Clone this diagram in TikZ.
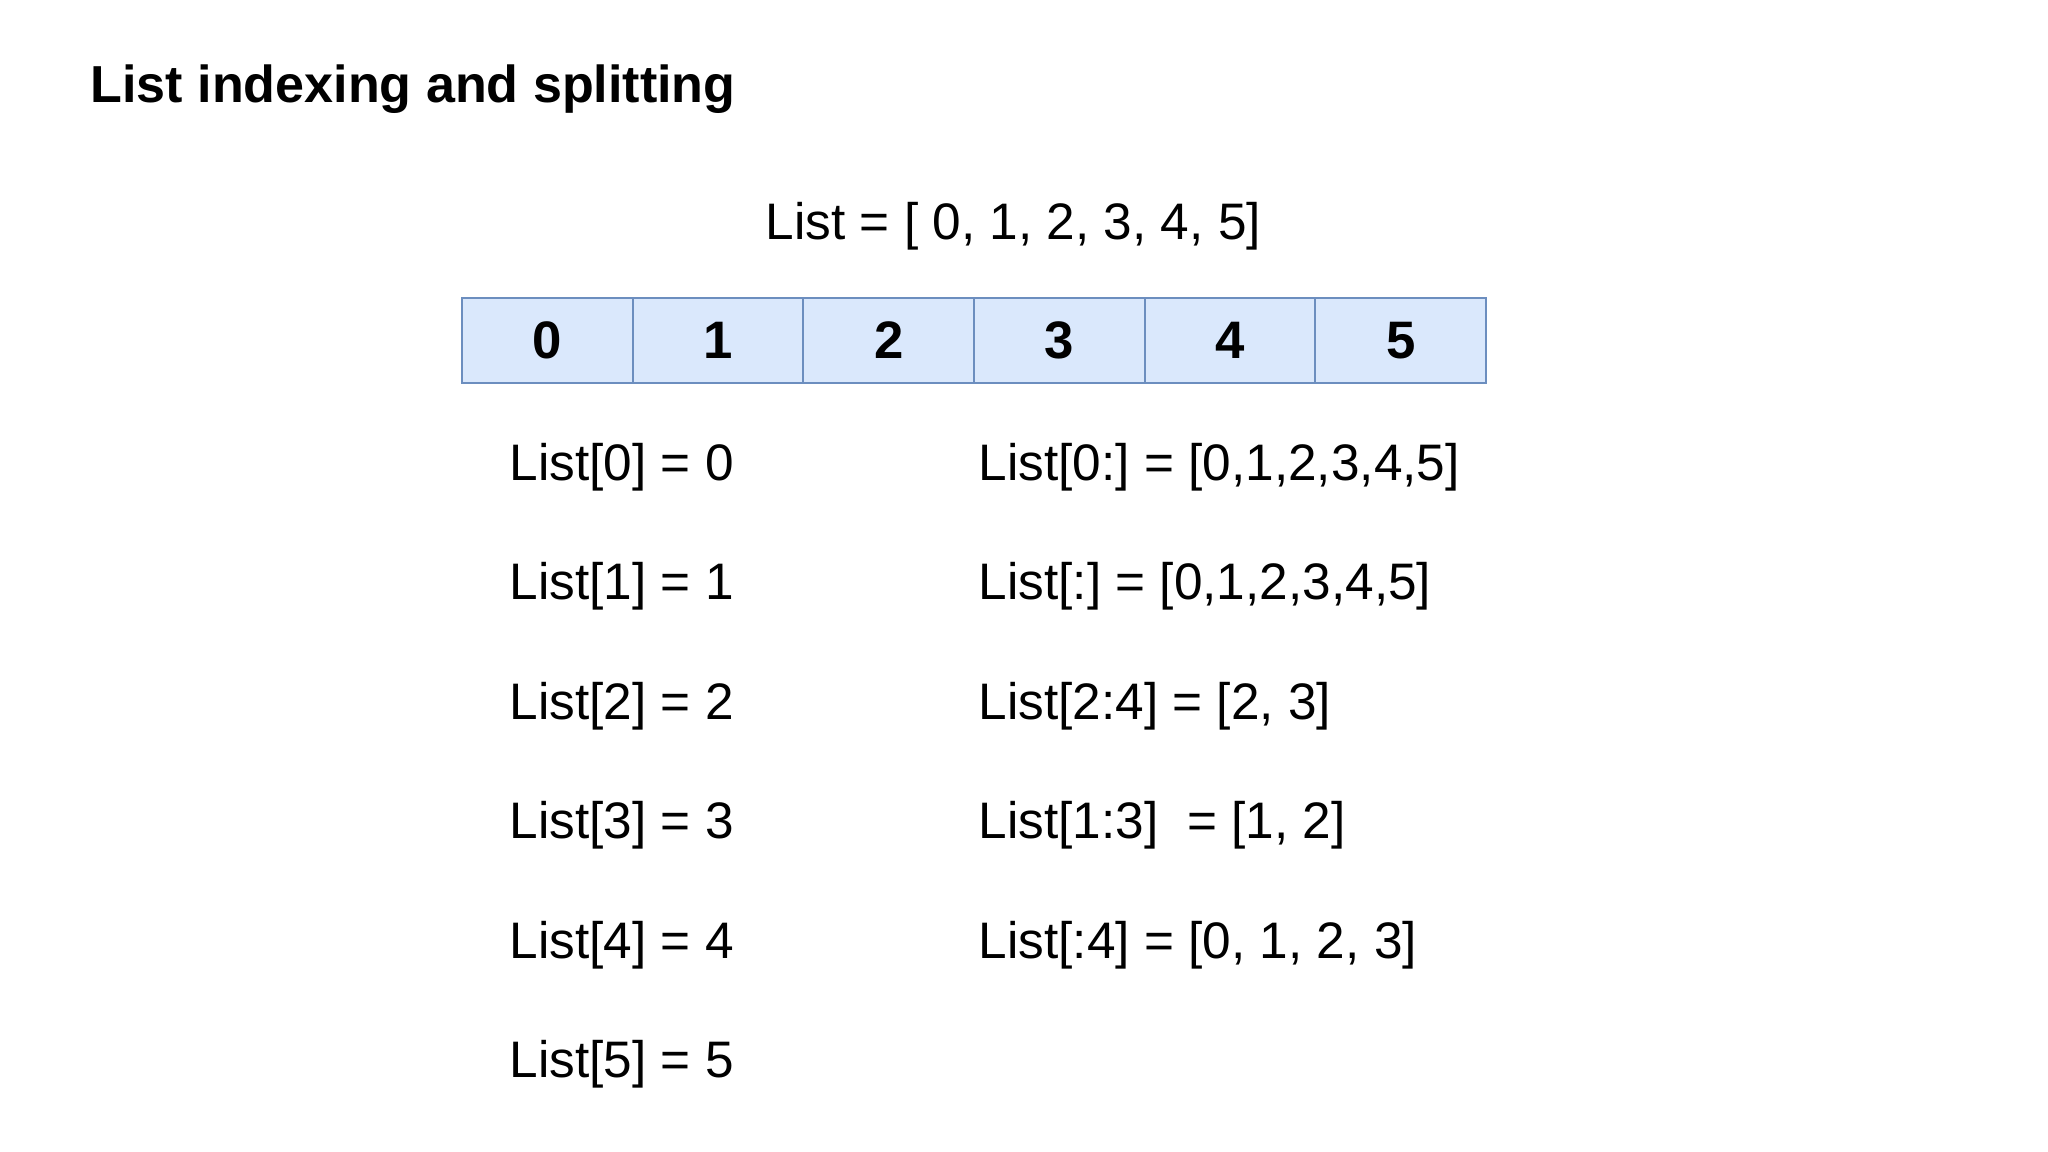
\documentclass[tikz,border=0pt]{standalone}
\usepackage{fontspec}
\setmainfont{Liberation Sans}
\usetikzlibrary{positioning}
\definecolor{cellfill}{HTML}{DAE8FC}
\definecolor{cellline}{HTML}{6C8EBF}

\begin{document}
\begin{tikzpicture}[x=0.01cm,y=-0.01cm,
  cell/.style={draw=cellline,fill=cellfill,line width=0.6pt,minimum width=1.7067cm,minimum height=0.85cm,inner sep=0pt,outer sep=0pt,font=\fontsize{15pt}{17pt}\selectfont\bfseries},
  code/.style={anchor=base west,inner sep=0pt,font=\fontsize{14.6pt}{17pt}\selectfont\frenchspacing}]
\newcommand{\rowgap}{119.4}
\newcommand{\rowtop}{480.6}

\useasboundingbox (0,0) rectangle (2048,1152);

\node[anchor=base west,inner sep=0pt,font=\fontsize{14.8pt}{18pt}\selectfont\bfseries] (title) at (90,103) {List indexing and splitting};
\node[code] (lst) at (765,240) {List = [ 0, 1, 2, 3, 4, 5]};

% the list cells
\foreach \i in {0,...,5}
  \node[cell] (c\i) at ({547.33+170.67*\i},340.5) {\i};

% indexing
\foreach \i in {0,...,5}
  \node[code] (idx\i) at (509,{\rowtop+\rowgap*\i}) {List[\i] = \i};

% slicing
\foreach \t [count=\k from 0] in {{List[0:] = [0,1,2,3,4,5]},{List[:] = [0,1,2,3,4,5]},{List[2:4] = [2, 3]},{List[1:3]\ \ = [1, 2]},{List[:4] = [0, 1, 2, 3]}}
  \node[code] (sl\k) at (978,{\rowtop+\rowgap*\k}) {\t};
\end{tikzpicture}
\end{document}
